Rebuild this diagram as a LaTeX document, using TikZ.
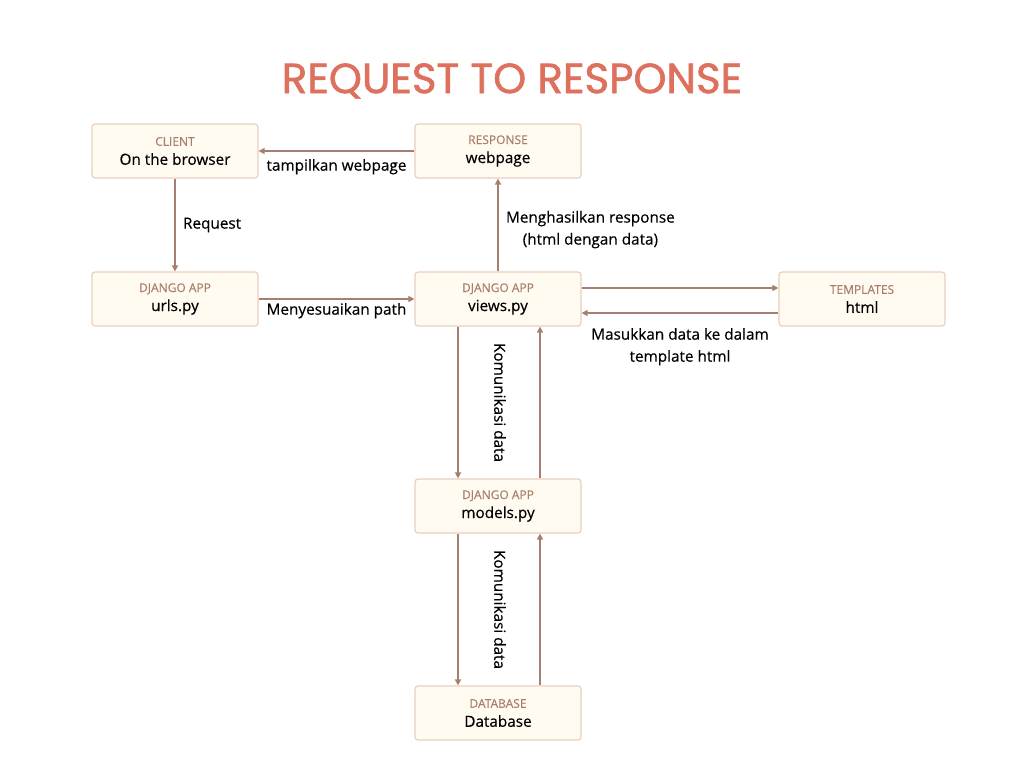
\documentclass[tikz,border=0pt]{standalone}
\usepackage{fontspec}
\setmainfont[FakeBold=0.4]{Open Sans}
\newfontfamily\titlefont[FakeBold=1.5]{Poppins}
\usetikzlibrary{positioning,arrows.meta,calc}
\definecolor{boxfill}{HTML}{FFFBF1}
\definecolor{boxline}{HTML}{EBCFBE}
\definecolor{tagcol}{HTML}{A97F6B}
\definecolor{arrcol}{HTML}{A67F70}
\definecolor{titlecol}{HTML}{DE705E}
\newcommand{\boxtag}[1]{{\fontsize{12}{13}\selectfont\color{tagcol}#1}\\[2pt]}
\begin{document}
\begin{tikzpicture}[x=1pt,y=-1pt,
  block/.style={rectangle, draw=boxline, line width=1.2pt, fill=boxfill, rounded corners=3pt, minimum width=166pt, minimum height=54pt, align=center, font=\fontsize{15.3}{17}\selectfont},
  flow/.style={-{Triangle[length=6pt,width=6pt]}, draw=arrcol, fill=arrcol, line width=1.4pt},
  lbl/.style={font=\fontsize{15.3}{22}\selectfont, align=center},
  node distance=148pt
]
\useasboundingbox (0,0) rectangle (1024,768);
\node[font=\titlefont\fontsize{42}{44}\selectfont, text=titlecol] (title) at (512,81) {REQUEST TO RESPONSE};

% Boxes
\node[block] (client) at (175,151) {\boxtag{CLIENT}On the browser};
\node[block,below of=client] (urls) {\boxtag{DJANGO APP}urls.py};
\node[block,right of=client,node distance=323pt] (response) {\boxtag{RESPONSE}webpage};
\node[block,below of=response] (views) {\boxtag{DJANGO APP}views.py};
\node[block,right of=views,node distance=364pt] (templates) {\boxtag{TEMPLATES}html};
\node[block,below of=views,node distance=207pt] (models) {\boxtag{DJANGO APP}models.py};
\node[block,below of=models,node distance=207pt] (database) {\boxtag{DATABASE}Database};

% Arrows
\draw[flow] (response.west) -- node[lbl,below=4pt] {tampilkan webpage} (client.east);
\draw[flow] (client.south) -- node[lbl,right=4pt] {Request} (urls.north);
\draw[flow] (urls.east) -- node[lbl,below=0pt] {Menyesuaikan path} (views.west);
\draw[flow] (views.north) -- node[lbl,right=4pt,pos=0.45] {Menghasilkan response\\(html dengan data)} (response.south);
\draw[flow] ([yshift=11pt]views.east) -- ([yshift=11pt]templates.west);
\draw[flow] ([yshift=-14pt]templates.west) -- node[lbl,below=11pt] {Masukkan data ke dalam\\template html} ([yshift=-14pt]views.east);
\draw[flow] ([xshift=-40pt]views.south) -- ([xshift=-40pt]models.north);
\draw[flow] ([xshift=42pt]models.north) -- ([xshift=42pt]views.south);
\draw[flow] ([xshift=-40pt]models.south) -- ([xshift=-40pt]database.north);
\draw[flow] ([xshift=42pt]database.north) -- ([xshift=42pt]models.south);
\node[lbl,rotate=-90] (komu1) at ($(views.south)!0.5!(models.north)+(2,0)$) {Komunikasi data};
\node[lbl,rotate=-90] (komu2) at ($(models.south)!0.5!(database.north)+(2,0)$) {Komunikasi data};
\end{tikzpicture}
\end{document}
